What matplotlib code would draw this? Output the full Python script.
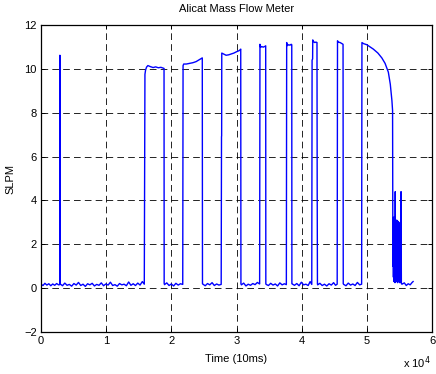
import matplotlib
matplotlib.use("Agg")
import matplotlib.pyplot as plt

plt.rcParams["font.family"] = ["Liberation Sans", "DejaVu Sans"]
plt.rcParams["font.size"] = 8

# flow log, time in samples (10 ms each), flow in SLPM
idle_a_t = [0, 300, 600, 900, 1200, 1500, 1800, 2100, 2400, 2700, 2880]
idle_a_v = [0.18, 0.12, 0.22, 0.14, 0.20, 0.11, 0.19, 0.13, 0.21, 0.15, 0.16]

spike_t = [2900, 2920]
spike_v = [10.62, 0.18]

idle_b_t = [2950, 3300, 3650, 4000, 4350, 4700, 5050, 5400, 5750, 6100, 6450, 6800,
            7150, 7500, 7850, 8200, 8550, 8900, 9250, 9600, 9950, 10300, 10650, 11000,
            11350, 11700, 12050, 12400, 12750, 13100, 13450, 13800, 14150, 14500,
            14850, 15200, 15550, 15850]
idle_b_v = [0.19, 0.11, 0.23, 0.13, 0.17, 0.09, 0.21, 0.14, 0.26, 0.12, 0.18, 0.08,
            0.20, 0.15, 0.22, 0.10, 0.17, 0.13, 0.24, 0.11, 0.19, 0.14, 0.27, 0.12,
            0.16, 0.09, 0.21, 0.15, 0.18, 0.11, 0.28, 0.13, 0.20, 0.12, 0.23, 0.14,
            0.30, 0.18]

pulse1_t = [15950, 16050, 16200, 16400, 16800, 17200, 17600, 18000, 18400, 18800, 18880, 18900]
pulse1_v = [9.75, 9.95, 10.08, 10.15, 10.10, 10.06, 10.09, 10.05, 10.07, 10.03, 10.02, 0.22]

idle_c_t = [18950, 19300, 19650, 20000, 20350, 20700, 21050, 21400, 21750]
idle_c_v = [0.16, 0.24, 0.12, 0.19, 0.10, 0.22, 0.14, 0.20, 0.17]

pulse2_t = [21800, 21900, 22300, 22800, 23300, 23800, 24200, 24600, 24750, 24780]
pulse2_v = [10.15, 10.22, 10.22, 10.25, 10.28, 10.33, 10.40, 10.47, 10.50, 0.20]

idle_d_t = [24850, 25200, 25550, 25900, 26250, 26600, 26950, 27300, 27650]
idle_d_v = [0.18, 0.11, 0.21, 0.15, 0.25, 0.12, 0.19, 0.14, 0.17]

pulse3_t = [27700, 27720, 27740, 28000, 28400, 28800, 29200, 29600, 30000, 30400,
            30600, 30650, 30680]
pulse3_v = [6.90, 6.95, 10.72, 10.68, 10.62, 10.64, 10.68, 10.72, 10.78, 10.83,
            10.88, 10.90, 0.20]

idle_e_t = [30750, 31100, 31450, 31800, 32150, 32500, 32850, 33200, 33550]
idle_e_v = [0.15, 0.23, 0.10, 0.18, 0.13, 0.21, 0.16, 0.26, 0.19]

pulse4_t = [33600, 33700, 33850, 34100, 34400, 34480, 34500]
pulse4_v = [11.12, 10.98, 11.02, 10.99, 11.03, 11.05, 0.20]

idle_f_t = [34550, 34900, 35250, 35600, 35950, 36300, 36650, 37000, 37350, 37650]
idle_f_v = [0.17, 0.12, 0.22, 0.14, 0.19, 0.10, 0.24, 0.15, 0.20, 0.16]

pulse5_t = [37700, 37800, 38000, 38200, 38400, 38480, 38500]
pulse5_v = [11.20, 11.06, 11.10, 11.08, 11.12, 11.10, 0.20]

idle_g_t = [38550, 38900, 39250, 39600, 39950, 40300, 40650, 41000, 41300, 41550]
idle_g_v = [0.19, 0.13, 0.21, 0.11, 0.27, 0.15, 0.18, 0.12, 0.30, 0.17]

pulse6_t = [41600, 41680, 41700, 41800, 42000, 42200, 42350, 42380, 42420]
pulse6_v = [10.40, 10.45, 11.32, 11.25, 11.20, 11.22, 11.20, 4.80, 0.20]

idle_h_t = [42450, 42800, 43150, 43500, 43850, 44200, 44550, 44900, 45200, 45450]
idle_h_v = [0.15, 0.22, 0.12, 0.18, 0.10, 0.20, 0.14, 0.25, 0.13, 0.18]

pulse7_t = [45500, 45600, 45900, 46200, 46350, 46380]
pulse7_v = [11.28, 11.22, 11.20, 11.15, 11.12, 0.20]

idle_i_t = [46450, 46800, 47150, 47500, 47850, 48200, 48550, 48900, 49200]
idle_i_v = [0.17, 0.11, 0.23, 0.14, 0.19, 0.12, 0.26, 0.15, 0.18]

# last run: supply pressure runs down, flow decays then chatters out
decay_t = [49250, 49500, 50000, 50500, 51000, 51700, 52300, 52800, 53300, 53600,
           53850, 53950, 54000]
decay_v = [11.20, 11.15, 11.10, 11.00, 10.90, 10.72, 10.50, 10.25, 9.85, 9.30,
           8.55, 8.10, 1.00]

chatter_t = [54040, 54080, 54120, 54160, 54200, 54240, 54280, 54320, 54360, 54400,
             54440, 54480, 54520, 54560, 54600, 54640, 54680, 54720, 54760, 54800,
             54840, 54880, 54920, 54960, 55000, 55040, 55080, 55120, 55160, 55200,
             55250, 55300]
chatter_v = [3.20, 0.50, 2.90, 0.30, 3.25, 0.80, 3.00, 0.25, 4.40, 0.40,
             3.10, 0.60, 2.80, 0.30, 3.10, 0.90, 2.60, 0.25, 3.05, 0.50,
             2.20, 0.30, 3.00, 0.70, 1.80, 0.25, 2.90, 0.40, 1.20, 0.30,
             4.40, 0.20]

idle_j_t = [55400, 55750, 56050, 56350, 56650, 56950, 57100]
idle_j_v = [0.18, 0.24, 0.12, 0.20, 0.15, 0.26, 0.30]

pieces = [
    (idle_a_t, idle_a_v), (spike_t, spike_v), (idle_b_t, idle_b_v),
    (pulse1_t, pulse1_v), (idle_c_t, idle_c_v), (pulse2_t, pulse2_v),
    (idle_d_t, idle_d_v), (pulse3_t, pulse3_v), (idle_e_t, idle_e_v),
    (pulse4_t, pulse4_v), (idle_f_t, idle_f_v), (pulse5_t, pulse5_v),
    (idle_g_t, idle_g_v), (pulse6_t, pulse6_v), (idle_h_t, idle_h_v),
    (pulse7_t, pulse7_v), (idle_i_t, idle_i_v), (decay_t, decay_v),
    (chatter_t, chatter_v), (idle_j_t, idle_j_v),
]
time = [t for ts, _ in pieces for t in ts]
slpm = [v for _, vs in pieces for v in vs]

x_ticks = [0, 10000, 20000, 30000, 40000, 50000, 60000]
x_tick_labels = ["0", "1", "2", "3", "4", "5", "6"]
y_ticks = [-2, 0, 2, 4, 6, 8, 10, 12]

W, H = 436, 374
fig = plt.figure(figsize=(W / 100, H / 100), dpi=100)
ax = fig.add_axes([41 / W, 1 - 332 / H, (432 - 41) / W, (332 - 25) / H])

ax.plot(time, slpm, color=(0, 0, 1), linewidth=1.0)

ax.set_xlim(0, 60000)
ax.set_ylim(-2, 12)
ax.set_xticks(x_ticks)
ax.set_xticklabels(x_tick_labels)
ax.set_yticks(y_ticks)
ax.grid(True, color="black", linestyle=(0, (8, 5)), linewidth=0.6)
ax.set_axisbelow(True)
ax.tick_params(direction="in", top=True, right=True, length=3, width=0.7,
               labelsize=8, pad=3, colors="black")
for sp in ax.spines.values():
    sp.set_linewidth(0.9)

ax.set_title("Alicat Mass Flow Meter", fontsize=8, pad=9)
ax.set_xlabel("Time (10ms)", fontsize=8, labelpad=6)
ax.set_ylabel("SLPM", fontsize=8, labelpad=6)
fig.text(431 / W, 1 - 368 / H, r"x 10$^{4}$", ha="right", va="baseline", fontsize=8)

fig.savefig("out.png", dpi=100)
